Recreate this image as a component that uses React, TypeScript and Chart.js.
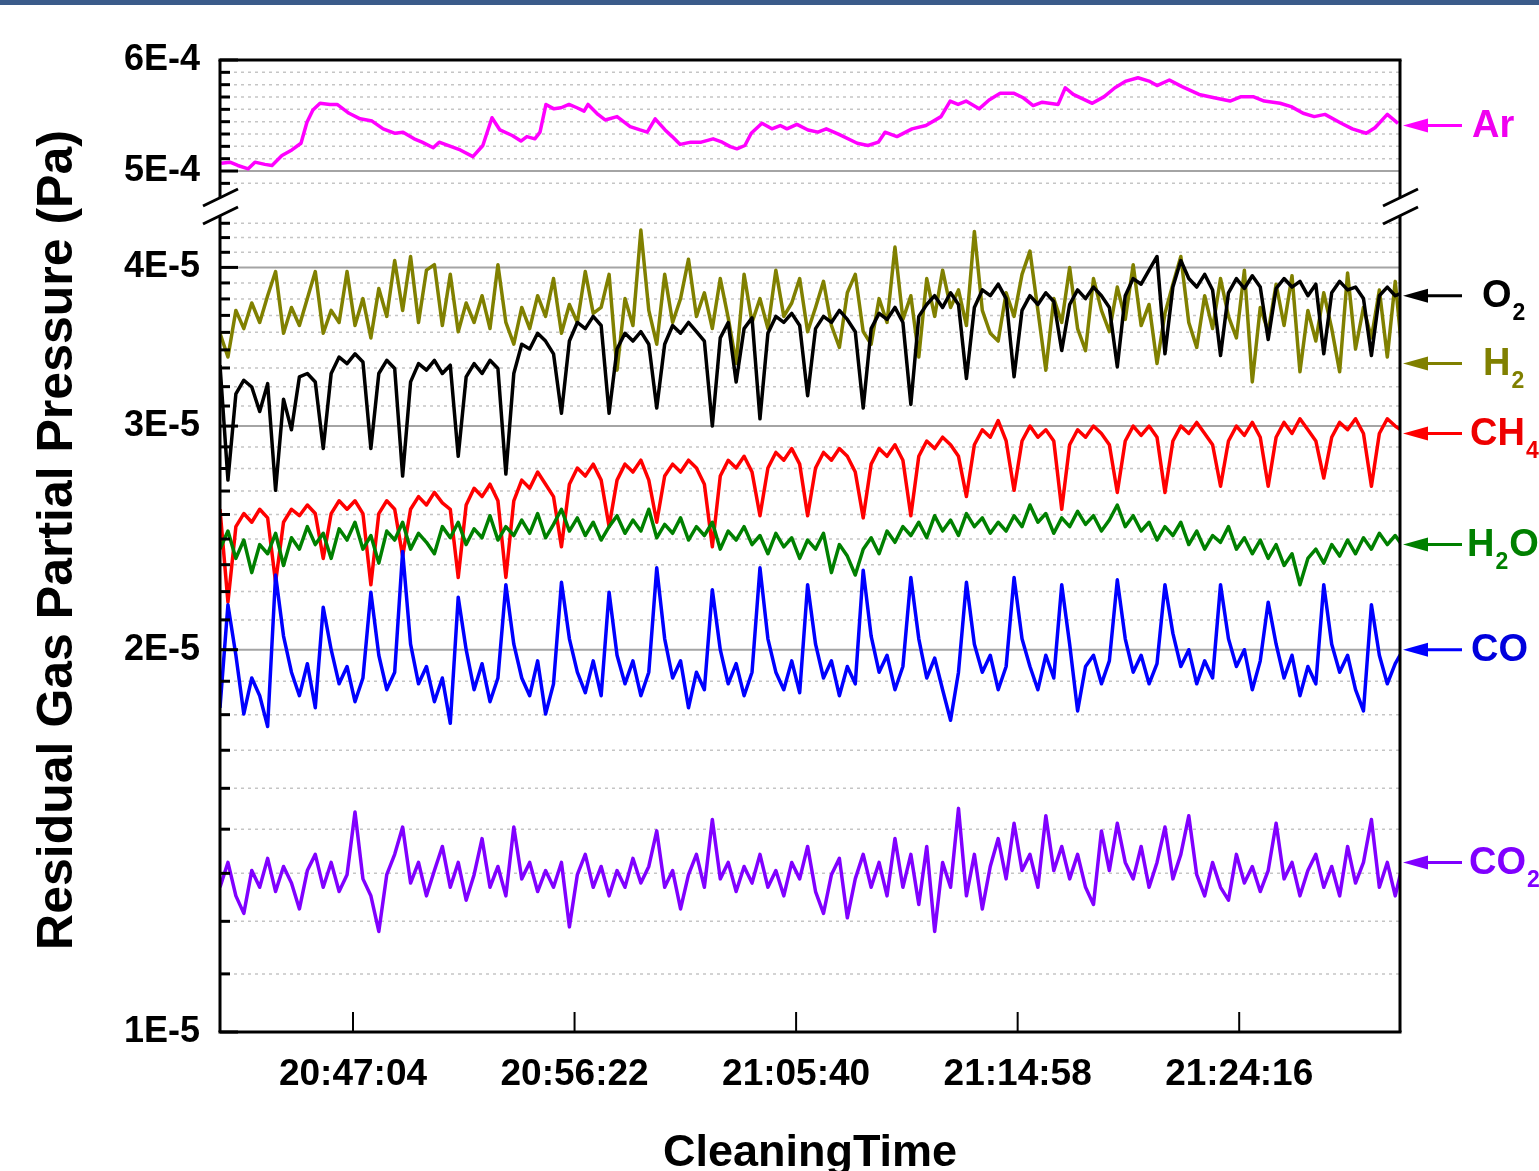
import React, { useEffect, useRef } from 'react';
import { Chart, registerables } from 'chart.js';

Chart.register(...registerables);

// ---------------- data ----------------
const START_TIME = '20:41:29';
const SPAN_SECONDS = 2972;
const SAMPLE_STEP_S = 20; // spacing of the gas samples below
const X_TICK_LABELS = ['20:47:04', '20:56:22', '21:05:40', '21:14:58', '21:24:16'];

const AR_TICKS = [5e-4, 6e-4];
const AR_TICK_LABELS = ['5E-4', '6E-4'];
const LOG_TICKS = [1e-5, 2e-5, 3e-5, 4e-5];
const LOG_TICK_LABELS = ['1E-5', '2E-5', '3E-5', '4E-5'];

// Ar: seconds after start and pressure in units of 1E-4 Pa
const AR_T = [3, 25, 45, 71, 88, 113, 131, 156, 181, 204,
  219, 234, 252, 277, 295, 325, 353, 383, 411, 441,
  461, 489, 509, 537, 552, 574, 605, 637, 662, 685,
  705, 736, 758, 773, 793, 806, 821, 841, 859, 879,
  899, 917, 927, 952, 970, 1000, 1033, 1058, 1076, 1096,
  1121, 1139, 1159, 1186, 1212, 1242, 1265, 1285, 1302, 1322,
  1338, 1365, 1390, 1411, 1428, 1453, 1481, 1506, 1527, 1559,
  1605, 1632, 1658, 1675, 1705, 1743, 1778, 1816, 1839, 1859,
  1879, 1912, 1937, 1965, 2000, 2023, 2048, 2071, 2111, 2129,
  2149, 2197, 2227, 2254, 2282, 2312, 2340, 2360, 2391, 2423,
  2466, 2504, 2544, 2572, 2602, 2630, 2670, 2698, 2728, 2756,
  2783, 2824, 2852, 2887, 2909, 2940, 2967];
const AR_V = [5.07, 5.08, 5.05, 5.02, 5.08, 5.06, 5.05, 5.14, 5.19, 5.25,
  5.44, 5.55, 5.61, 5.60, 5.60, 5.52, 5.47, 5.45, 5.38, 5.34,
  5.35, 5.29, 5.26, 5.21, 5.26, 5.23, 5.19, 5.13, 5.23, 5.48,
  5.37, 5.32, 5.27, 5.31, 5.29, 5.35, 5.60, 5.56, 5.57, 5.60,
  5.57, 5.54, 5.60, 5.51, 5.46, 5.49, 5.40, 5.37, 5.35, 5.47,
  5.37, 5.31, 5.24, 5.26, 5.26, 5.29, 5.26, 5.22, 5.20, 5.23,
  5.34, 5.43, 5.38, 5.41, 5.38, 5.42, 5.37, 5.35, 5.38, 5.33,
  5.25, 5.23, 5.26, 5.35, 5.31, 5.38, 5.41, 5.49, 5.63, 5.60,
  5.63, 5.56, 5.64, 5.70, 5.70, 5.66, 5.59, 5.62, 5.60, 5.75,
  5.69, 5.61, 5.67, 5.75, 5.81, 5.84, 5.81, 5.77, 5.82, 5.76,
  5.69, 5.66, 5.63, 5.67, 5.67, 5.63, 5.61, 5.58, 5.52, 5.49,
  5.51, 5.43, 5.38, 5.34, 5.39, 5.51, 5.43];

// other gases: units of 1E-5 Pa, one value every SAMPLE_STEP_S seconds
const O2 = [3.35, 2.72, 3.18, 3.26, 3.22, 3.08, 3.24, 2.67, 3.15, 2.98,
  3.28, 3.30, 3.25, 2.88, 3.30, 3.40, 3.36, 3.42, 3.37, 2.88,
  3.30, 3.38, 3.33, 2.74, 3.25, 3.36, 3.32, 3.38, 3.30, 3.35,
  2.84, 3.28, 3.36, 3.30, 3.38, 3.33, 2.75, 3.30, 3.48, 3.45,
  3.55, 3.50, 3.42, 3.07, 3.50, 3.62, 3.58, 3.66, 3.60, 3.07,
  3.45, 3.55, 3.50, 3.56, 3.48, 3.10, 3.48, 3.60, 3.55, 3.62,
  3.56, 3.50, 3.00, 3.52, 3.62, 3.25, 3.58, 3.65, 3.04, 3.55,
  3.66, 3.62, 3.68, 3.60, 3.17, 3.58, 3.66, 3.62, 3.70, 3.64,
  3.56, 3.10, 3.58, 3.68, 3.64, 3.72, 3.62, 3.12, 3.66, 3.74,
  3.80, 3.72, 3.82, 3.74, 3.27, 3.72, 3.84, 3.80, 3.88, 3.78,
  3.28, 3.70, 3.80, 3.74, 3.82, 3.76, 3.44, 3.74, 3.84, 3.78,
  3.86, 3.80, 3.72, 3.34, 3.80, 3.92, 3.88, 3.98, 4.08, 3.42,
  3.86, 4.05, 3.92, 3.86, 3.95, 3.84, 3.41, 3.82, 3.92, 3.85,
  3.94, 3.86, 3.51, 3.85, 3.92, 3.86, 3.90, 3.80, 3.88, 3.42,
  3.82, 3.90, 3.84, 3.86, 3.78, 3.41, 3.80, 3.86, 3.80, 3.82];
const H2 = [3.55, 3.40, 3.70, 3.58, 3.75, 3.62, 3.80, 3.97, 3.55, 3.72,
  3.60, 3.78, 3.97, 3.55, 3.70, 3.62, 3.97, 3.60, 3.78, 3.52,
  3.85, 3.66, 4.05, 3.70, 4.08, 3.62, 3.98, 4.02, 3.60, 3.95,
  3.56, 3.75, 3.62, 3.80, 3.58, 4.02, 3.62, 3.48, 3.72, 3.58,
  3.80, 3.66, 3.92, 3.55, 3.74, 3.62, 3.97, 3.68, 3.72, 3.95,
  3.32, 3.78, 3.60, 4.28, 3.70, 3.48, 3.95, 3.62, 3.78, 4.06,
  3.66, 3.82, 3.58, 3.92, 3.65, 3.36, 3.95, 3.62, 3.78, 3.58,
  3.98, 3.66, 3.75, 3.92, 3.56, 3.72, 3.90, 3.60, 3.46, 3.82,
  3.95, 3.56, 3.48, 3.78, 3.62, 4.15, 3.64, 3.80, 3.40, 3.92,
  3.66, 3.98, 3.72, 3.84, 3.60, 4.27, 3.70, 3.55, 3.50, 3.82,
  3.66, 3.95, 4.12, 3.70, 3.32, 3.78, 3.62, 4.00, 3.58, 3.44,
  3.92, 3.70, 3.56, 3.86, 3.64, 4.02, 3.60, 3.74, 3.36, 3.68,
  3.88, 4.08, 3.62, 3.46, 3.80, 3.58, 3.92, 3.66, 3.52, 3.98,
  3.25, 3.72, 3.56, 3.88, 3.60, 3.94, 3.31, 3.70, 3.50, 3.82,
  3.58, 3.31, 3.96, 3.45, 3.72, 3.52, 3.84, 3.40, 3.90, 3.36];
const CH4 = [2.58, 2.18, 2.50, 2.56, 2.52, 2.58, 2.54, 2.26, 2.52, 2.58,
  2.55, 2.60, 2.56, 2.36, 2.56, 2.62, 2.58, 2.62, 2.56, 2.25,
  2.56, 2.62, 2.58, 2.37, 2.58, 2.64, 2.60, 2.66, 2.61, 2.58,
  2.28, 2.60, 2.68, 2.64, 2.70, 2.62, 2.28, 2.62, 2.72, 2.68,
  2.76, 2.70, 2.64, 2.41, 2.70, 2.78, 2.74, 2.80, 2.72, 2.50,
  2.72, 2.80, 2.76, 2.82, 2.72, 2.52, 2.74, 2.80, 2.76, 2.82,
  2.78, 2.70, 2.41, 2.74, 2.82, 2.78, 2.84, 2.76, 2.55, 2.78,
  2.86, 2.82, 2.88, 2.80, 2.55, 2.78, 2.86, 2.82, 2.88, 2.84,
  2.76, 2.54, 2.80, 2.88, 2.84, 2.90, 2.82, 2.55, 2.84, 2.92,
  2.88, 2.94, 2.90, 2.84, 2.64, 2.90, 2.98, 2.94, 3.03, 2.92,
  2.67, 2.92, 3.00, 2.94, 2.98, 2.92, 2.58, 2.90, 2.98, 2.94,
  3.00, 2.96, 2.90, 2.66, 2.92, 3.00, 2.95, 3.00, 2.94, 2.66,
  2.92, 3.00, 2.96, 3.02, 2.96, 2.90, 2.69, 2.92, 3.00, 2.95,
  3.02, 2.94, 2.69, 2.94, 3.02, 2.96, 3.04, 2.98, 2.92, 2.73,
  2.94, 3.02, 2.98, 3.04, 2.96, 2.69, 2.96, 3.04, 3.00, 2.97];
const H2O = [2.40, 2.48, 2.36, 2.44, 2.30, 2.42, 2.38, 2.47, 2.33, 2.45,
  2.40, 2.50, 2.42, 2.47, 2.36, 2.49, 2.44, 2.52, 2.40, 2.46,
  2.34, 2.48, 2.44, 2.52, 2.40, 2.47, 2.43, 2.38, 2.50, 2.45,
  2.52, 2.42, 2.49, 2.45, 2.55, 2.44, 2.50, 2.46, 2.53, 2.47,
  2.56, 2.45, 2.51, 2.58, 2.48, 2.54, 2.46, 2.52, 2.44, 2.50,
  2.55, 2.47, 2.53, 2.48, 2.58, 2.45, 2.51, 2.47, 2.54, 2.44,
  2.50, 2.46, 2.52, 2.40, 2.48, 2.44, 2.50, 2.42, 2.46, 2.38,
  2.47, 2.41, 2.45, 2.36, 2.44, 2.40, 2.47, 2.30, 2.42, 2.37,
  2.29, 2.40, 2.45, 2.38, 2.48, 2.43, 2.50, 2.46, 2.52, 2.45,
  2.55, 2.48, 2.53, 2.46, 2.56, 2.50, 2.54, 2.47, 2.52, 2.48,
  2.55, 2.50, 2.60, 2.52, 2.56, 2.47, 2.54, 2.50, 2.57, 2.51,
  2.55, 2.48, 2.53, 2.60, 2.50, 2.55, 2.48, 2.52, 2.44, 2.50,
  2.46, 2.52, 2.42, 2.48, 2.40, 2.46, 2.43, 2.50, 2.40, 2.45,
  2.38, 2.44, 2.36, 2.42, 2.33, 2.38, 2.25, 2.36, 2.40, 2.34,
  2.42, 2.37, 2.44, 2.38, 2.45, 2.40, 2.47, 2.42, 2.46, 2.41];
const CO = [1.80, 2.17, 1.98, 1.78, 1.90, 1.84, 1.74, 2.29, 2.05, 1.92,
  1.84, 1.95, 1.80, 2.16, 2.00, 1.88, 1.94, 1.82, 1.90, 2.22,
  1.98, 1.86, 1.92, 2.39, 2.02, 1.88, 1.94, 1.82, 1.90, 1.75,
  2.20, 2.00, 1.86, 1.95, 1.82, 1.90, 2.25, 2.02, 1.90, 1.84,
  1.96, 1.78, 1.88, 2.26, 2.04, 1.92, 1.85, 1.96, 1.84, 2.22,
  1.98, 1.88, 1.96, 1.84, 1.92, 2.32, 2.04, 1.90, 1.96, 1.80,
  1.92, 1.86, 2.23, 2.00, 1.88, 1.95, 1.84, 1.92, 2.32, 2.04,
  1.92, 1.86, 1.96, 1.85, 2.25, 2.02, 1.90, 1.96, 1.84, 1.94,
  1.88, 2.31, 2.05, 1.92, 1.98, 1.86, 1.94, 2.28, 2.04, 1.90,
  1.97, 1.86, 1.76, 1.92, 2.26, 2.02, 1.92, 1.98, 1.86, 1.94,
  2.28, 2.04, 1.94, 1.86, 1.98, 1.90, 2.25, 2.02, 1.79, 1.94,
  1.98, 1.88, 1.96, 2.27, 2.04, 1.92, 1.98, 1.88, 1.95, 2.25,
  2.06, 1.94, 2.00, 1.88, 1.96, 1.90, 2.25, 2.04, 1.94, 2.00,
  1.86, 1.96, 2.18, 2.02, 1.90, 1.98, 1.84, 1.94, 1.88, 2.25,
  2.02, 1.92, 1.98, 1.86, 1.79, 2.17, 1.98, 1.88, 1.95, 2.00];
const CO2 = [1.30, 1.36, 1.28, 1.24, 1.34, 1.30, 1.37, 1.29, 1.35, 1.31,
  1.25, 1.34, 1.38, 1.30, 1.36, 1.29, 1.33, 1.49, 1.32, 1.28,
  1.20, 1.33, 1.38, 1.45, 1.31, 1.36, 1.28, 1.34, 1.40, 1.30,
  1.36, 1.27, 1.33, 1.42, 1.30, 1.35, 1.28, 1.45, 1.32, 1.36,
  1.29, 1.34, 1.30, 1.36, 1.21, 1.33, 1.38, 1.30, 1.35, 1.28,
  1.34, 1.30, 1.37, 1.31, 1.35, 1.44, 1.30, 1.34, 1.25, 1.33,
  1.38, 1.30, 1.47, 1.32, 1.36, 1.29, 1.35, 1.31, 1.38, 1.30,
  1.34, 1.28, 1.36, 1.32, 1.40, 1.29, 1.24, 1.33, 1.37, 1.23,
  1.32, 1.38, 1.30, 1.36, 1.28, 1.42, 1.30, 1.38, 1.26, 1.40,
  1.20, 1.36, 1.30, 1.50, 1.28, 1.38, 1.25, 1.35, 1.42, 1.32,
  1.46, 1.34, 1.38, 1.30, 1.48, 1.34, 1.40, 1.32, 1.38, 1.30,
  1.26, 1.44, 1.34, 1.46, 1.36, 1.32, 1.40, 1.30, 1.36, 1.45,
  1.32, 1.38, 1.48, 1.33, 1.28, 1.36, 1.30, 1.27, 1.38, 1.31,
  1.35, 1.29, 1.34, 1.46, 1.32, 1.36, 1.28, 1.34, 1.38, 1.30,
  1.35, 1.28, 1.40, 1.31, 1.36, 1.47, 1.30, 1.36, 1.28, 1.36];

// end-of-line values pointed at by the labels on the right
const LABEL_ANCHORS = [5.41e-4, 3.80e-5, 3.36e-5, 2.96e-5, 2.42e-5, 2.0e-5, 1.36e-5];

// ---------------- styling ----------------
const FONT = "'Liberation Sans', Arial, Helvetica, sans-serif";
const COLORS = ['#ff00ff', '#000000', '#808000', '#ff0000', '#008000', '#0000ff', '#8000ff'];
const LABEL_COLORS = ['#f000f0', '#000000', '#808000', '#ee0000', '#008000', '#0000dd', '#8000ff'];
const LABEL_PARTS: [string, boolean][][] = [
  [['Ar', false]],
  [['O', false], ['2', true]],
  [['H', false], ['2', true]],
  [['CH', false], ['4', true]],
  [['H', false], ['2', true], ['O', false]],
  [['CO', false]],
  [['CO', false], ['2', true]],
];
const LABEL_X = [1472, 1482, 1483, 1470, 1467, 1471, 1469];
const DRAW_ORDER = [6, 4, 5, 3, 2, 1, 0]; // lower = drawn on top

const AR_AXIS_MIN = 4.712e-4;
const LOG_AXIS_MAX = 4.4955e-5;
const AR_GRID_MIN = 4.85e-4;
const LOG_GRID_MAX = 4.35e-5;

const toSec = (s: string) => {
  const [h, m, x] = s.split(':').map(Number);
  return h * 3600 + m * 60 + x;
};
const T0 = toSec(START_TIME);
const X_TICKS = X_TICK_LABELS.map(toSec);

const arMinor = () => {
  const out: number[] = [];
  const step = (AR_TICKS[1] - AR_TICKS[0]) / 9;
  for (let k = -2; k <= 8; k++) {
    if (k === 0) continue;
    const v = AR_TICKS[0] + k * step;
    if (v >= AR_GRID_MIN && v < AR_TICKS[1]) out.push(v);
  }
  return out;
};
const logMinor = () => {
  const out: number[] = [];
  for (const n of LOG_TICKS) {
    for (let k = 1; k <= 8; k++) {
      const v = n + (k / 9) * LOG_TICKS[0];
      if (v <= LOG_GRID_MAX) out.push(v);
    }
  }
  return out;
};

const decorPlugin = {
  id: 'rgaDecor',
  beforeDatasetsDraw(chart: any) {
    const { ctx, chartArea: a } = chart;
    const yAr = chart.scales.yAr;
    const yLog = chart.scales.y;
    ctx.save();
    const hline = (py: number) => {
      ctx.beginPath();
      ctx.moveTo(a.left, py);
      ctx.lineTo(a.right, py);
      ctx.stroke();
    };
    ctx.strokeStyle = 'rgba(150,150,150,0.55)';
    ctx.lineWidth = 1.5;
    ctx.setLineDash([3, 4]);
    arMinor().forEach((v) => hline(yAr.getPixelForValue(v)));
    logMinor().forEach((v) => hline(yLog.getPixelForValue(v)));
    ctx.setLineDash([]);
    ctx.strokeStyle = '#a4a4a4';
    ctx.lineWidth = 2;
    AR_TICKS.slice(0, -1).forEach((v) => hline(yAr.getPixelForValue(v)));
    LOG_TICKS.slice(1).forEach((v) => hline(yLog.getPixelForValue(v)));
    ctx.restore();
  },
  afterDraw(chart: any) {
    const { ctx, chartArea: a } = chart;
    const yAr = chart.scales.yAr;
    const yLog = chart.scales.y;
    const xs = chart.scales.x;
    const L = a.left, R = a.right, T = a.top, B = a.bottom;
    const line = (x1: number, y1: number, x2: number, y2: number) => {
      ctx.beginPath();
      ctx.moveTo(x1, y1);
      ctx.lineTo(x2, y2);
      ctx.stroke();
    };
    ctx.save();
    // top banner strip
    ctx.fillStyle = '#3b5b8a';
    ctx.fillRect(0, 0, chart.width, 5);

    // frame with breaks
    ctx.strokeStyle = '#000';
    ctx.lineWidth = 3;
    const brk = yAr.bottom + 3;
    line(L - 1.5, T, R + 1.5, T);
    line(L - 1.5, B, R + 1.5, B);
    for (const x of [L, R]) {
      line(x, T, x, brk - 9);
      line(x, brk + 9, x, B);
      line(x - 17, brk, x + 18, brk - 17);
      line(x - 17, brk + 18, x + 18, brk + 1);
    }
    // left ticks
    AR_TICKS.forEach((v) => { const p = yAr.getPixelForValue(v); line(L, p, L + 18, p); });
    LOG_TICKS.forEach((v) => { const p = yLog.getPixelForValue(v); line(L, p, L + 18, p); });
    arMinor().forEach((v) => { const p = yAr.getPixelForValue(v); line(L, p, L + 10, p); });
    logMinor().forEach((v) => { const p = yLog.getPixelForValue(v); line(L, p, L + 10, p); });
    // bottom ticks
    ctx.lineWidth = 2;
    X_TICKS.forEach((v) => { const p = xs.getPixelForValue(v); line(p, B, p, B - 20); });

    // labels with arrows
    LABEL_ANCHORS.forEach((v, i) => {
      const sc = i === 0 ? yAr : yLog;
      const py = sc.getPixelForValue(v);
      const col = COLORS[i];
      ctx.strokeStyle = col;
      ctx.fillStyle = col;
      ctx.lineWidth = 3;
      line(R + 26, py, R + 62, py);
      ctx.beginPath();
      ctx.moveTo(R + 3, py);
      ctx.lineTo(R + 28, py - 7);
      ctx.lineTo(R + 28, py + 7);
      ctx.closePath();
      ctx.fill();
      let x = LABEL_X[i];
      ctx.fillStyle = LABEL_COLORS[i];
      ctx.textAlign = 'left';
      ctx.textBaseline = 'middle';
      for (const [txt, sub] of LABEL_PARTS[i]) {
        ctx.font = sub ? `bold 23px ${FONT}` : `bold 38px ${FONT}`;
        const yy = sub ? py + 18 : py + 1;
        ctx.fillText(txt, x + (sub ? 1 : 0), yy);
        x += ctx.measureText(txt).width + (sub ? 2 : 0);
      }
    });

    // y-axis title
    ctx.fillStyle = '#000';
    ctx.font = `bold 50px ${FONT}`;
    ctx.textAlign = 'center';
    ctx.textBaseline = 'middle';
    ctx.translate(58, 540);
    ctx.rotate(-Math.PI / 2);
    ctx.fillText('Residual Gas Partial Pressure (Pa)', 0, 0);
    ctx.restore();
  },
};

export default function App() {
  const ref = useRef<HTMLCanvasElement | null>(null);

  useEffect(() => {
    const canvas = ref.current;
    if (!canvas) return;

    const gas = (vals: number[]) =>
      vals.map((v, i) => ({ x: T0 + i * SAMPLE_STEP_S, y: v * 1e-5 }));
    const series = [
      AR_T.map((t, i) => ({ x: T0 + t, y: AR_V[i] * 1e-4 })),
      gas(O2), gas(H2), gas(CH4), gas(H2O), gas(CO), gas(CO2),
    ];
    const names = ['Ar', 'O2', 'H2', 'CH4', 'H2O', 'CO', 'CO2'];

    const datasets = series.map((data, i) => ({
      label: names[i],
      data,
      yAxisID: i === 0 ? 'yAr' : 'y',
      borderColor: COLORS[i],
      backgroundColor: COLORS[i],
      borderWidth: 3.5,
      pointRadius: 0,
      tension: 0,
      fill: false,
      borderJoinStyle: 'round',
      order: DRAW_ORDER[i],
    }));

    const yTickFont = { family: FONT, size: 36, weight: 'bold' };

    const chart = new Chart(canvas, {
      type: 'line',
      data: { datasets } as any,
      plugins: [decorPlugin],
      options: {
        responsive: false,
        maintainAspectRatio: false,
        devicePixelRatio: 1,
        animation: false,
        events: [],
        layout: { padding: { top: 60, right: 139, bottom: 0, left: 0 } },
        plugins: { legend: { display: false }, tooltip: { enabled: false } },
        scales: {
          x: {
            type: 'linear',
            position: 'bottom',
            min: T0,
            max: T0 + SPAN_SECONDS,
            bounds: 'data',
            grid: { display: false, drawTicks: false },
            border: { display: false },
            afterBuildTicks: (s: any) => { s.ticks = X_TICKS.map((v) => ({ value: v })); },
            afterFit: (s: any) => { s.height = 139; },
            ticks: {
              autoSkip: false,
              maxRotation: 0,
              padding: 21,
              color: '#000',
              font: { family: FONT, size: 37, weight: 'bold' },
              callback: (_v: any, i: number) => X_TICK_LABELS[i],
            },
            title: {
              display: true,
              text: 'CleaningTime',
              color: '#000',
              padding: 0,
              font: { family: FONT, size: 45, weight: 'bold', lineHeight: 0.78 },
            },
          },
          y: {
            type: 'logarithmic',
            position: 'left',
            stack: 'rga',
            stackWeight: 829,
            weight: 0,
            min: LOG_TICKS[0],
            max: LOG_AXIS_MAX,
            grid: { display: false, drawTicks: false },
            border: { display: false },
            afterBuildTicks: (s: any) => { s.ticks = LOG_TICKS.map((v) => ({ value: v })); },
            afterFit: (s: any) => { s.width = 220; },
            ticks: {
              autoSkip: false,
              padding: 20,
              color: '#000',
              font: yTickFont,
              callback: (_v: any, i: number) => LOG_TICK_LABELS[i],
            },
          },
          yAr: {
            type: 'linear',
            position: 'left',
            stack: 'rga',
            stackWeight: 143,
            weight: 1,
            min: AR_AXIS_MIN,
            max: AR_TICKS[1],
            bounds: 'data',
            grid: { display: false, drawTicks: false },
            border: { display: false },
            afterBuildTicks: (s: any) => { s.ticks = AR_TICKS.map((v) => ({ value: v })); },
            afterFit: (s: any) => { s.width = 220; },
            ticks: {
              autoSkip: false,
              padding: 20,
              color: '#000',
              font: yTickFont,
              callback: (_v: any, i: number) => AR_TICK_LABELS[i],
            },
          },
        },
      } as any,
    });

    return () => chart.destroy();
  }, []);

  return (
    <div style={{ position: 'fixed', left: 0, top: 0, width: 1539, height: 1171, background: '#fff', overflow: 'hidden' }}>
      <canvas ref={ref} width={1539} height={1171} style={{ display: 'block', width: 1539, height: 1171 }} />
    </div>
  );
}
